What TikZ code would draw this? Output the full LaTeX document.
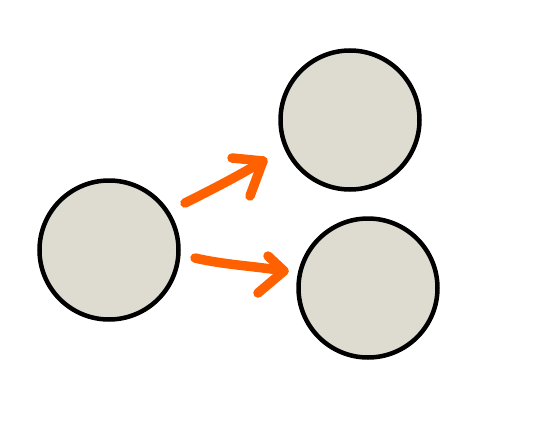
\documentclass[tikz,border=0pt]{standalone}
\begin{document}
\begin{tikzpicture}[x=1pt,y=-1pt,
  ball/.style={circle,draw=black,line width=4.5pt,fill=ballfill,minimum size=139pt,inner sep=0pt},
  stroke/.style={draw=arroworange,line width=9.5pt,line cap=round,line join=round}]
\definecolor{ballfill}{HTML}{DEDCD0}
\definecolor{arroworange}{HTML}{FF6000}
\useasboundingbox (0,0) rectangle (558,447);
\node[ball] (src) at (109,250) {};
\node[ball] (top) at (350,120) {};
\node[ball] (bot) at (368,288) {};
\coordinate (a1s) at (185,203);
\coordinate (a1t) at (263,161);
\coordinate (a1b1) at (232,158);
\coordinate (a1b2) at (250,196);
\coordinate (a2s) at (195,258);
\coordinate (a2t) at (284,271);
\coordinate (a2b1) at (268,256);
\coordinate (a2b2) at (258,293);
\path[stroke] (a1s) .. controls (215,188) and (240,175) .. (a1t);
\path[stroke] (a1b1) -- (a1t) -- (a1b2);
\path[stroke] (a2s) .. controls (225,265) and (255,266) .. (a2t);
\path[stroke] (a2b1) -- (a2t) -- (a2b2);
\end{tikzpicture}
\end{document}
